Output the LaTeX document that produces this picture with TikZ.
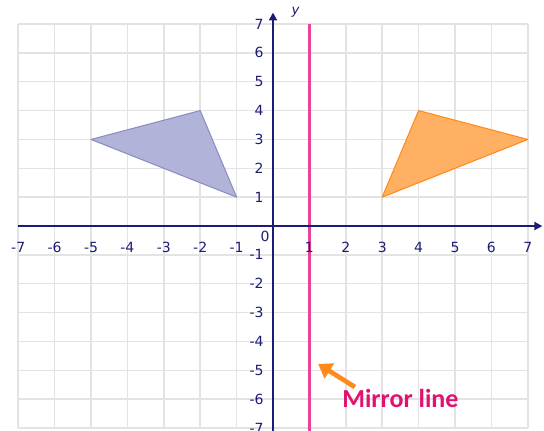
\documentclass[tikz,border=0pt]{standalone}
\usepackage{fontspec}
\setmainfont{DejaVu Sans}
\newfontfamily\labelfont{Carlito}
\usetikzlibrary{arrows.meta}

\definecolor{axisnavy}{HTML}{1C1C74}
\definecolor{gridgray}{HTML}{E3E3E3}
\definecolor{mirrorpink}{HTML}{E8449C}
\definecolor{textpink}{HTML}{DE1470}
\definecolor{shapeblue}{HTML}{B1B3D8}
\definecolor{edgeblue}{HTML}{8A8EC4}
\definecolor{shapeorange}{HTML}{FFB062}
\definecolor{edgeorange}{HTML}{FF8A1C}

\begin{document}
\begin{tikzpicture}[x=27.3pt, y=21.64pt,
    tick/.style={text=axisnavy, inner sep=0pt, font=\fontsize{10.5}{12}\selectfont},
    axisline/.style={draw=axisnavy, line width=1.5pt},
    gridline/.style={draw=gridgray, line width=1.1pt}]
			% Fixed frame
			\useasboundingbox (-7.5,-7.07) rectangle (7.445,7.833);
			
			% Grid
			\foreach \k in {-7,...,7} {
				\draw[gridline] (\k,-7) -- (\k,7);
				\draw[gridline] (-7,\k) -- (7,\k);
			}
			
			% Shapes
			\draw[fill=shapeblue, draw=edgeblue, line width=0.8pt, line join=round]
			(-5,3) -- (-2,4) -- (-1,1) -- cycle;
			\draw[fill=shapeorange, draw=edgeorange, line width=0.8pt, line join=round]
			(4,4) -- (7,3) -- (3,1) -- cycle;
			
			% Mirror line
			\draw[mirrorpink, line width=2.2pt] (1,7) -- (1,-7.1);
			
			% Axes
			\draw[axisline, -{Triangle[length=6pt, width=6pt]}] (-7,0) -- (7.4,0);
			\draw[axisline, -{Triangle[length=6pt, width=6pt]}] (0,-7.1) -- (0,7.4);
			\node (ylab) at (0.62,7.4) [text=axisnavy, font=\itshape\fontsize{10}{12}\selectfont] {\textrm{y}};
			
			% Tick labels
			\foreach \n in {-7,...,-1,1,2,...,7} {
				\node (xt\n) at (\n,-0.73) [tick] {\n};
				\node (yt\n) at (-0.25,\n) [tick, anchor=east] {\n};
			}
			\node (zero) at (-0.22,-0.36) [tick] {0};
			
			% Label and pointer
			\node (mirror) at (3.5,-5.96) [text=textpink, font=\labelfont\bfseries\fontsize{19.5}{22}\selectfont] {Mirror line};
			\coordinate (tail) at (2.25,-5.58);
			\coordinate (tip) at (1.24,-4.78);
			\draw[edgeorange, line width=3.5pt, -{Triangle[length=10pt, width=13pt]}] (tail) -- (tip);
		\end{tikzpicture}
\end{document}
